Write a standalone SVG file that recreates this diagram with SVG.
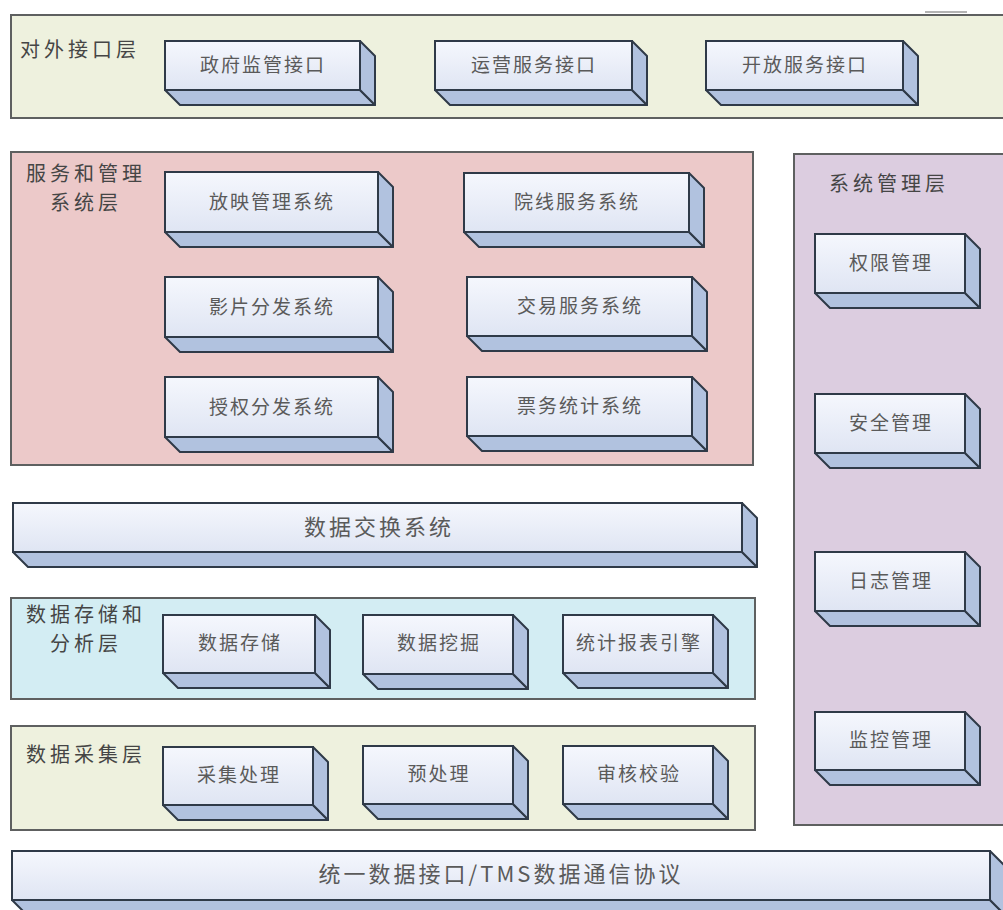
<svg xmlns="http://www.w3.org/2000/svg" width="1003" height="910" viewBox="0 0 1003 910">
<defs>
<linearGradient id="gFront" x1="0" y1="0" x2="0" y2="1">
<stop offset="0" stop-color="#f5f7fd"/>
<stop offset="1" stop-color="#dfe5f3"/>
</linearGradient>
<style>
.panel{stroke:#5e6060;stroke-width:2}
.front{fill:url(#gFront);stroke:#2f3a48;stroke-width:2}
.side{fill:#b1c2df;stroke:#2f3a48;stroke-width:2;stroke-linejoin:round}
.lbl{font-family:"Noto Sans CJK SC","Noto Sans CJK JP",sans-serif;font-size:19px;fill:#5a5a5a;text-anchor:middle;letter-spacing:2px}
.big{font-size:22px;letter-spacing:3px}
.ttl{font-family:"Noto Sans CJK SC","Noto Sans CJK JP",sans-serif;font-size:20px;fill:#454545;letter-spacing:4px}
</style>
</defs>
<rect width="1003" height="910" fill="#ffffff"/>
<line x1="925" y1="12" x2="967" y2="12" stroke="#9a9a9a" stroke-width="1.5"/>

<g id="layer-external">
<rect class="panel" x="11" y="15" width="1000" height="103" fill="#eef1de"/>
<text class="ttl" x="20" y="57">对外接口层</text>
</g>
<g id="layer-service">
<rect class="panel" x="11" y="152" width="742" height="313" fill="#ecc9c9"/>
<text class="ttl" x="26" y="181">服务和管理</text>
<text class="ttl" x="50" y="210">系统层</text>
</g>
<g id="layer-system">
<rect class="panel" x="794" y="154" width="220" height="671" fill="#dccde0"/>
<text class="ttl" x="829" y="191">系统管理层</text>
</g>
<g id="layer-storage">
<rect class="panel" x="11" y="598" width="744" height="101" fill="#d3edf3"/>
<text class="ttl" x="26" y="622">数据存储和</text>
<text class="ttl" x="50" y="651">分析层</text>
</g>
<g id="layer-collect">
<rect class="panel" x="11" y="726" width="744" height="104" fill="#eef1de"/>
<text class="ttl" x="26" y="762">数据采集层</text>
</g>

<g id="connectors"></g>

<g id="box-gov">
<path class="side" d="M165,90 L360,90 L375,105 L180,105 Z"/>
<path class="side" d="M360,41 L375,56 L375,105 L360,90 Z"/>
<rect class="front" x="165" y="41" width="195" height="49"/>
<text class="lbl" x="263" y="72">政府监管接口</text>
</g>
<g id="box-ops">
<path class="side" d="M435,90 L632,90 L647,105 L450,105 Z"/>
<path class="side" d="M632,41 L647,56 L647,105 L632,90 Z"/>
<rect class="front" x="435" y="41" width="197" height="49"/>
<text class="lbl" x="534" y="72">运营服务接口</text>
</g>
<g id="box-open">
<path class="side" d="M706,90 L903,90 L918,105 L721,105 Z"/>
<path class="side" d="M903,41 L918,56 L918,105 L903,90 Z"/>
<rect class="front" x="706" y="41" width="197" height="49"/>
<text class="lbl" x="805" y="72">开放服务接口</text>
</g>

<g id="box-screen">
<path class="side" d="M165,232 L378,232 L393,247 L180,247 Z"/>
<path class="side" d="M378,172 L393,187 L393,247 L378,232 Z"/>
<rect class="front" x="165" y="172" width="213" height="60"/>
<text class="lbl" x="272" y="209">放映管理系统</text>
</g>
<g id="box-film">
<path class="side" d="M165,337 L378,337 L393,352 L180,352 Z"/>
<path class="side" d="M378,277 L393,292 L393,352 L378,337 Z"/>
<rect class="front" x="165" y="277" width="213" height="60"/>
<text class="lbl" x="272" y="314">影片分发系统</text>
</g>
<g id="box-auth">
<path class="side" d="M165,437 L378,437 L393,452 L180,452 Z"/>
<path class="side" d="M378,377 L393,392 L393,452 L378,437 Z"/>
<rect class="front" x="165" y="377" width="213" height="60"/>
<text class="lbl" x="272" y="414">授权分发系统</text>
</g>
<g id="box-cinema">
<path class="side" d="M464,232 L689,232 L704,247 L479,247 Z"/>
<path class="side" d="M689,173 L704,188 L704,247 L689,232 Z"/>
<rect class="front" x="464" y="173" width="225" height="59"/>
<text class="lbl" x="577" y="209">院线服务系统</text>
</g>
<g id="box-trade">
<path class="side" d="M467,336 L692,336 L707,351 L482,351 Z"/>
<path class="side" d="M692,277 L707,292 L707,351 L692,336 Z"/>
<rect class="front" x="467" y="277" width="225" height="59"/>
<text class="lbl" x="580" y="313">交易服务系统</text>
</g>
<g id="box-ticket">
<path class="side" d="M467,436 L692,436 L707,451 L482,451 Z"/>
<path class="side" d="M692,377 L707,392 L707,451 L692,436 Z"/>
<rect class="front" x="467" y="377" width="225" height="59"/>
<text class="lbl" x="580" y="413">票务统计系统</text>
</g>

<g id="box-perm">
<path class="side" d="M815,293 L965,293 L980,308 L830,308 Z"/>
<path class="side" d="M965,234 L980,249 L980,308 L965,293 Z"/>
<rect class="front" x="815" y="234" width="150" height="59"/>
<text class="lbl" x="891" y="270">权限管理</text>
</g>
<g id="box-sec">
<path class="side" d="M815,453 L965,453 L980,468 L830,468 Z"/>
<path class="side" d="M965,394 L980,409 L980,468 L965,453 Z"/>
<rect class="front" x="815" y="394" width="150" height="59"/>
<text class="lbl" x="891" y="430">安全管理</text>
</g>
<g id="box-log">
<path class="side" d="M815,611 L965,611 L980,626 L830,626 Z"/>
<path class="side" d="M965,552 L980,567 L980,626 L965,611 Z"/>
<rect class="front" x="815" y="552" width="150" height="59"/>
<text class="lbl" x="891" y="588">日志管理</text>
</g>
<g id="box-mon">
<path class="side" d="M815,770 L965,770 L980,785 L830,785 Z"/>
<path class="side" d="M965,712 L980,727 L980,785 L965,770 Z"/>
<rect class="front" x="815" y="712" width="150" height="58"/>
<text class="lbl" x="891" y="747">监控管理</text>
</g>

<g id="box-exchange">
<path class="side" d="M13,552 L742,552 L757,567 L28,567 Z"/>
<path class="side" d="M742,503 L757,518 L757,567 L742,552 Z"/>
<rect class="front" x="13" y="503" width="729" height="49"/>
<text class="lbl big" x="379" y="535">数据交换系统</text>
</g>

<g id="box-store">
<path class="side" d="M163,673 L315,673 L330,688 L178,688 Z"/>
<path class="side" d="M315,615 L330,630 L330,688 L315,673 Z"/>
<rect class="front" x="163" y="615" width="152" height="58"/>
<text class="lbl" x="240" y="650">数据存储</text>
</g>
<g id="box-mine">
<path class="side" d="M363,674 L513,674 L528,689 L378,689 Z"/>
<path class="side" d="M513,615 L528,630 L528,689 L513,674 Z"/>
<rect class="front" x="363" y="615" width="150" height="59"/>
<text class="lbl" x="439" y="650">数据挖掘</text>
</g>
<g id="box-report">
<path class="side" d="M563,673 L713,673 L728,688 L578,688 Z"/>
<path class="side" d="M713,615 L728,630 L728,688 L713,673 Z"/>
<rect class="front" x="563" y="615" width="150" height="58"/>
<text class="lbl" x="639" y="650">统计报表引擎</text>
</g>

<g id="box-collect">
<path class="side" d="M163,805 L313,805 L328,820 L178,820 Z"/>
<path class="side" d="M313,747 L328,762 L328,820 L313,805 Z"/>
<rect class="front" x="163" y="747" width="150" height="58"/>
<text class="lbl" x="239" y="782">采集处理</text>
</g>
<g id="box-pre">
<path class="side" d="M363,804 L513,804 L528,819 L378,819 Z"/>
<path class="side" d="M513,746 L528,761 L528,819 L513,804 Z"/>
<rect class="front" x="363" y="746" width="150" height="58"/>
<text class="lbl" x="439" y="781">预处理</text>
</g>
<g id="box-audit">
<path class="side" d="M563,804 L713,804 L728,819 L578,819 Z"/>
<path class="side" d="M713,746 L728,761 L728,819 L713,804 Z"/>
<rect class="front" x="563" y="746" width="150" height="58"/>
<text class="lbl" x="639" y="781">审核校验</text>
</g>

<g id="box-protocol">
<path class="side" d="M12,900 L990,900 L1005,915 L27,915 Z"/>
<path class="side" d="M990,851 L1005,866 L1005,915 L990,900 Z"/>
<rect class="front" x="12" y="851" width="978" height="49"/>
<text class="lbl big" x="501" y="882" letter-spacing="1">统一数据接口/TMS数据通信协议</text>
</g>
</svg>
